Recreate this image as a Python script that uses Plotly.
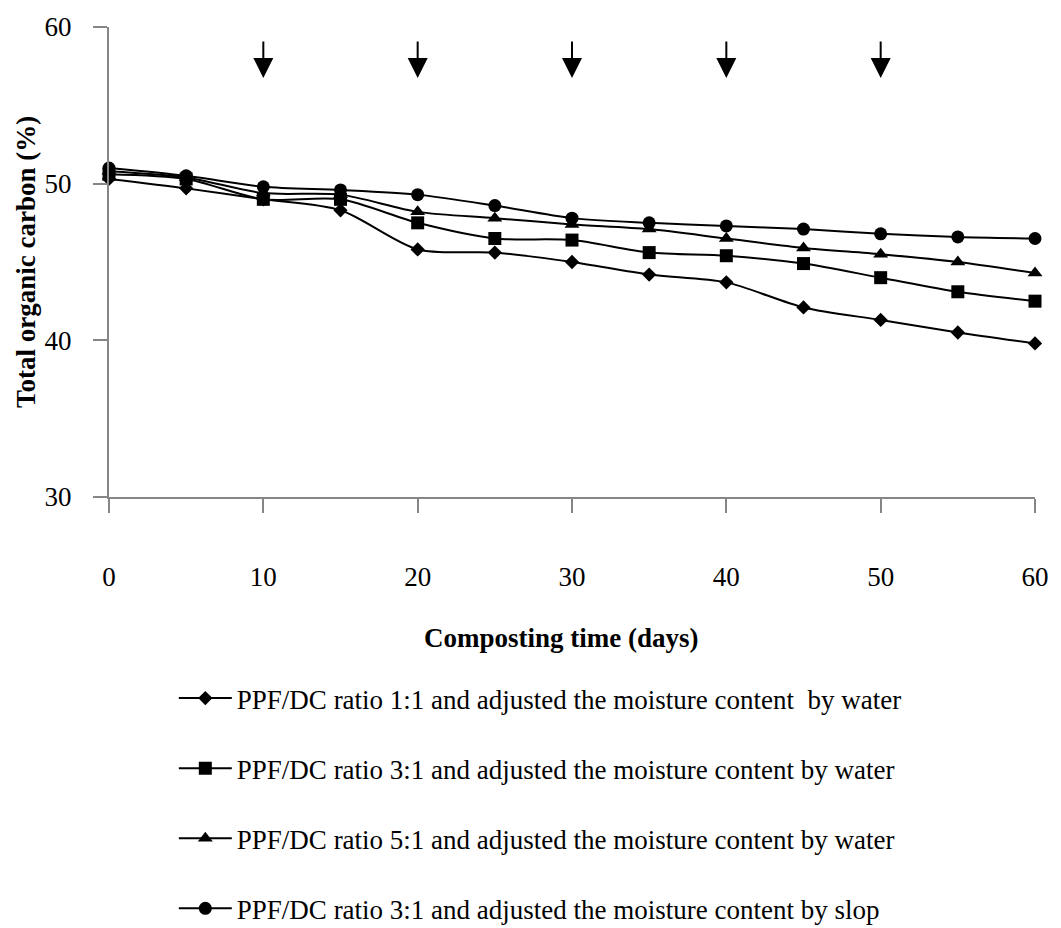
import plotly.graph_objects as go

# Composting time (days)
days = [0, 5, 10, 15, 20, 25, 30, 35, 40, 45, 50, 55, 60]

# Total organic carbon (%) for each treatment
toc_11_water = [50.3, 49.7, 49.0, 48.3, 45.8, 45.6, 45.0, 44.2, 43.7, 42.1, 41.3, 40.5, 39.8]
toc_31_water = [50.6, 50.3, 49.0, 49.0, 47.5, 46.5, 46.4, 45.6, 45.4, 44.9, 44.0, 43.1, 42.5]
toc_51_water = [50.8, 50.4, 49.4, 49.3, 48.2, 47.8, 47.4, 47.1, 46.5, 45.9, 45.5, 45.0, 44.3]
toc_31_slop = [51.0, 50.5, 49.8, 49.6, 49.3, 48.6, 47.8, 47.5, 47.3, 47.1, 46.8, 46.6, 46.5]

series_names = [
    "PPF/DC ratio 1:1 and adjusted the moisture content  by water",
    "PPF/DC ratio 3:1 and adjusted the moisture content by water",
    "PPF/DC ratio 5:1 and adjusted the moisture content by water",
    "PPF/DC ratio 3:1 and adjusted the moisture content by slop",
]

# Days on which the piles were turned
turning_days = [10, 20, 30, 40, 50]

x_ticks = [0, 10, 20, 30, 40, 50, 60]
y_ticks = [30, 40, 50, 60]

FONT = "Liberation Serif, Times New Roman, serif"
AXIS_GREY = "#868686"

series = [
    (toc_11_water, "diamond", 11),
    (toc_31_water, "square", 13),
    (toc_51_water, "triangle-up", 13),
    (toc_31_slop, "circle", 13),
]

fig = go.Figure()
for i, ((vals, symbol, size), name) in enumerate(zip(series, series_names)):
    fig.add_trace(go.Scatter(
        x=days, y=vals, name=name, legendgroup=f"g{i}",
        mode="lines+markers",
        line=dict(color="black", width=2, shape="spline", smoothing=0.8),
        marker=dict(symbol=symbol, size=size, color="black"),
        cliponaxis=False,
    ))

# Downward arrows marking pile turning
for d in turning_days:
    fig.add_annotation(
        x=d, y=56.75, xref="x", yref="y", text="",
        showarrow=True, arrowhead=2, arrowsize=2, arrowwidth=2,
        arrowcolor="black", ax=0, ay=-38, standoff=0,
    )

# Axis titles
fig.add_annotation(
    text="<b>Total organic carbon (%)</b>", textangle=-90,
    xref="paper", yref="paper", x=-0.0897, y=0.5,
    xanchor="center", yanchor="middle", showarrow=False,
    font=dict(family=FONT, size=27, color="black"),
)
fig.add_annotation(
    text="<b>Composting time (days)</b>",
    xref="paper", yref="paper", x=0.489, y=-0.299,
    xanchor="center", yanchor="middle", showarrow=False,
    font=dict(family=FONT, size=27, color="black"),
)

fig.update_xaxes(
    range=[0, 60], tickvals=x_ticks, ticktext=[str(v) for v in x_ticks],
    showline=True, linecolor=AXIS_GREY, linewidth=2,
    ticks="outside", ticklen=14, tickwidth=2, tickcolor=AXIS_GREY,
    ticklabelstandoff=41, showgrid=False, zeroline=False,
    tickfont=dict(family=FONT, size=27, color="black"),
)
fig.update_yaxes(
    range=[30, 60], tickvals=y_ticks, ticktext=[str(v) for v in y_ticks],
    showline=True, linecolor=AXIS_GREY, linewidth=2,
    ticks="outside", ticklen=14, tickwidth=2, tickcolor=AXIS_GREY,
    ticklabelstandoff=16, showgrid=False, zeroline=False,
    tickfont=dict(family=FONT, size=27, color="black"),
)

fig.update_layout(
    width=1061, height=928,
    margin=dict(l=109, r=16, t=25, b=431),
    paper_bgcolor="white", plot_bgcolor="white",
    font=dict(family=FONT, size=27, color="black"),
    showlegend=True,
    legend=dict(
        x=0.07, xanchor="left",
        y=0.2737, yref="container", yanchor="top",
        traceorder="grouped", tracegroupgap=32, itemwidth=53,
        font=dict(family=FONT, size=27, color="black"),
        bgcolor="rgba(0,0,0,0)",
    ),
)

fig.write_html("out.html")
